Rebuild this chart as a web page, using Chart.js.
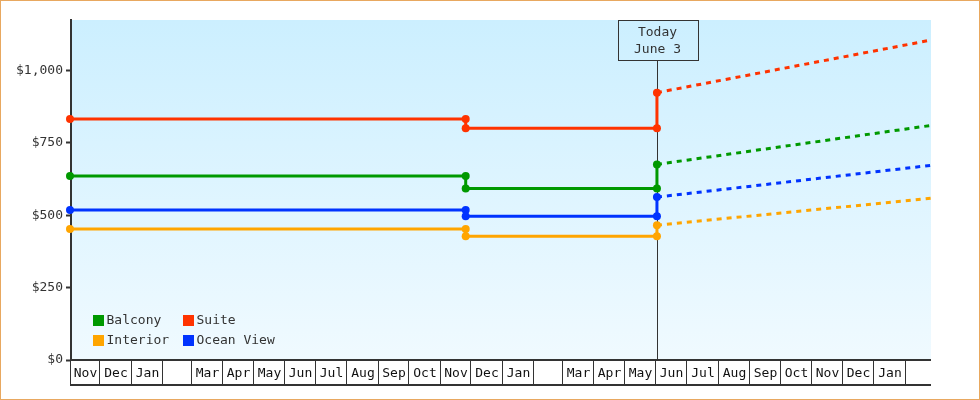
<!DOCTYPE html>
<html>
<head>
<meta charset="utf-8">
<script src="https://cdn.jsdelivr.net/npm/chart.js@4.4.0/dist/chart.umd.min.js"></script>
<style>
  html, body { margin: 0; padding: 0; background: #ffffff; }
  #wrap { width: 980px; height: 400px; }
</style>
</head>
<body>
<div id="wrap"><canvas id="c" width="980" height="400"></canvas></div>
<script>
// ---------------- data ----------------
const categories = ['Balcony', 'Suite', 'Interior', 'Ocean View'];
const seriesColors = ['#009900', '#ff3300', '#ffa500', '#0033ff'];

// dates where the price changed (start, change, today's update)
const changeDates = ['2012-11-01', '2013-11-25', '2014-06-01'];
const forecastEndDate = '2015-02-26';
const todayDate = '2014-06-03';
const todayLabel = ['Today', 'June 3'];

const balcony   = [636, 593, 676];
const suite     = [833, 801, 924];
const interior  = [453, 428, 466];
const oceanView = [518, 497, 563];

const balconyForecast   = 811;
const suiteForecast     = 1106;
const interiorForecast  = 559;
const oceanViewForecast = 673;

const yTicks = [0, 250, 500, 750, 1000];
const yMax = 1175;

const monthStarts = ['2012-11-01','2012-12-01','2013-01-01','2013-02-01','2013-03-01','2013-04-01',
  '2013-05-01','2013-06-01','2013-07-01','2013-08-01','2013-09-01','2013-10-01','2013-11-01',
  '2013-12-01','2014-01-01','2014-02-01','2014-03-01','2014-04-01','2014-05-01','2014-06-01',
  '2014-07-01','2014-08-01','2014-09-01','2014-10-01','2014-11-01','2014-12-01','2015-01-01',
  '2015-02-01'];
const monthLabels = ['Nov','Dec','Jan','','Mar','Apr','May','Jun','Jul','Aug','Sep','Oct','Nov',
  'Dec','Jan','','Mar','Apr','May','Jun','Jul','Aug','Sep','Oct','Nov','Dec','Jan',''];

// ---------------- helpers ----------------
const DAY = 86400000;
const t0 = Date.parse(changeDates[0] + 'T00:00:00Z');
function dayOf(s) { return (Date.parse(s + 'T00:00:00Z') - t0) / DAY; }

const seriesValues = [balcony, suite, interior, oceanView];
const seriesForecast = [balconyForecast, suiteForecast, interiorForecast, oceanViewForecast];

const datasets = [];
categories.forEach((name, i) => {
  const v = seriesValues[i];
  const d = changeDates.map(dayOf);
  const pts = [
    {x: d[0], y: v[0]}, {x: d[1], y: v[0]},
    {x: d[1], y: v[1]}, {x: d[2], y: v[1]},
    {x: d[2], y: v[2]}
  ];
  datasets.push({
    label: name, data: pts, borderColor: seriesColors[i], backgroundColor: seriesColors[i],
    borderWidth: 3, pointRadius: 4, pointHoverRadius: 4, pointBorderWidth: 0,
    tension: 0, clip: false, order: 1
  });
  datasets.push({
    label: name + ' forecast',
    data: [{x: d[2], y: v[2]}, {x: dayOf(forecastEndDate), y: seriesForecast[i]}],
    borderColor: seriesColors[i], backgroundColor: seriesColors[i],
    borderWidth: 3, borderDash: [5, 5], pointRadius: 0, tension: 0, clip: false, order: 2
  });
});

const FONT = '13px "DejaVu Sans Mono", monospace';
const INK = '#333333';

// ---------------- plugins ----------------
const bgPlugin = {
  id: 'bg',
  beforeDraw(chart) {
    const {ctx, chartArea: a} = chart;
    ctx.save();
    ctx.fillStyle = '#ffffff';
    ctx.fillRect(0, 0, chart.width, chart.height);
    const g = ctx.createLinearGradient(0, a.top, 0, a.bottom);
    g.addColorStop(0, '#ccefff');
    g.addColorStop(1, '#f0faff');
    ctx.fillStyle = g;
    ctx.fillRect(a.left, a.top, a.right - a.left, a.bottom - a.top);
    ctx.restore();
  },
  afterDraw(chart) {
    const ctx = chart.ctx;
    ctx.save();
    ctx.strokeStyle = '#e8a860';
    ctx.lineWidth = 1;
    ctx.strokeRect(0.5, 0.5, chart.width - 1, chart.height - 1);
    ctx.restore();
  }
};

const monthAxisPlugin = {
  id: 'monthAxis',
  afterDraw(chart) {
    const {ctx, chartArea: a} = chart;
    const xs = chart.scales.x;
    const top = a.bottom, bot = a.bottom + 25;
    ctx.save();
    ctx.strokeStyle = INK;
    ctx.lineWidth = 2;
    ctx.beginPath();
    ctx.moveTo(a.left - 1, top); ctx.lineTo(a.right, top);
    ctx.moveTo(a.left - 1, bot); ctx.lineTo(a.right, bot);
    ctx.stroke();
    ctx.lineWidth = 1;
    ctx.font = FONT;
    ctx.fillStyle = '#111';
    ctx.textAlign = 'center';
    ctx.textBaseline = 'middle';
    const px = monthStarts.map(s => Math.max(Math.floor(xs.getPixelForValue(dayOf(s))) - 0.5, a.left - 0.5));
    px.forEach((xr, i) => {
      ctx.beginPath();
      ctx.moveTo(xr, top); ctx.lineTo(xr, bot);
      ctx.stroke();
      const next = i + 1 < px.length ? px[i + 1] : a.right;
      if (monthLabels[i]) ctx.fillText(monthLabels[i], (xr + next) / 2 + 0.5, (top + bot) / 2 + 1);
    });
    ctx.restore();
  }
};

const todayPlugin = {
  id: 'today',
  beforeDatasetsDraw(chart) {
    const {ctx, chartArea: a} = chart;
    const x = Math.floor(chart.scales.x.getPixelForValue(dayOf(todayDate))) - 0.5;
    const bw = 80, bh = 40;
    const bx = x - bw / 2, by = a.top;
    ctx.save();
    ctx.strokeStyle = INK;
    ctx.lineWidth = 1;
    ctx.beginPath();
    ctx.moveTo(x, by + bh); ctx.lineTo(x, a.bottom);
    ctx.stroke();
    ctx.strokeRect(Math.round(bx) + 0.5, by + 0.5, bw, bh);
    ctx.font = FONT;
    ctx.fillStyle = INK;
    ctx.textAlign = 'center';
    ctx.textBaseline = 'middle';
    ctx.fillText(todayLabel[0], x, by + 12.5);
    ctx.fillText(todayLabel[1], x, by + 30);
    ctx.restore();
  }
};

const legendPlugin = {
  id: 'boxLegend',
  afterDatasetsDraw(chart) {
    const {ctx, chartArea: a} = chart;
    ctx.save();
    ctx.font = FONT;
    ctx.textAlign = 'left';
    ctx.textBaseline = 'middle';
    categories.forEach((name, i) => {
      const col = i % 2, row = Math.floor(i / 2);
      const bx = a.left + 22 + col * 90;
      const by = a.bottom - 45 + row * 20;
      ctx.fillStyle = seriesColors[i];
      ctx.fillRect(bx, by, 11, 11);
      ctx.fillStyle = INK;
      ctx.fillText(name, bx + 13.5, by + 6);
    });
    ctx.restore();
  }
};

// ---------------- chart ----------------
new Chart(document.getElementById('c'), {
  type: 'line',
  data: { datasets },
  plugins: [bgPlugin, monthAxisPlugin, todayPlugin, legendPlugin],
  options: {
    responsive: false,
    animation: false,
    events: [],
    layout: { padding: { top: 20, right: 49, bottom: 15, left: 0 } },
    plugins: { legend: { display: false }, tooltip: { enabled: false } },
    scales: {
      x: {
        type: 'linear',
        min: 1,
        max: 846.4,
        ticks: { display: false },
        grid: { display: false },
        border: { display: false },
        afterFit(s) { s.height = 25; }
      },
      y: {
        type: 'linear',
        min: 0,
        max: yMax,
        afterBuildTicks(s) { s.ticks = yTicks.map(v => ({ value: v })); },
        afterFit(s) { s.width = 71; },
        ticks: {
          padding: 3,
          color: INK,
          font: { family: '"DejaVu Sans Mono", monospace', size: 13 },
          callback: v => '$' + v.toLocaleString('en-US')
        },
        grid: { drawOnChartArea: false, drawTicks: true, tickLength: 5, tickWidth: 2, color: INK },
        border: { display: true, color: INK, width: 2 }
      }
    }
  }
});
</script>
</body>
</html>
